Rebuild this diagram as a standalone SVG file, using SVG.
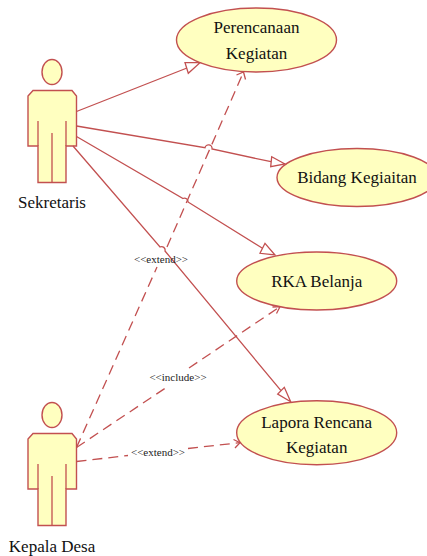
<svg xmlns="http://www.w3.org/2000/svg" width="427" height="556" viewBox="0 0 427 556">
<style>
.n{fill:#ffffc0;stroke:#c25050;stroke-width:1.4}
.l{fill:none;stroke:#c25050;stroke-width:1.3}
.d{stroke-dasharray:10 6}
.h{fill:#fff;stroke:#c25050;stroke-width:1.3}
text{font-family:"Liberation Serif","Times New Roman",serif;fill:#111;text-anchor:middle}
.t{font-size:17px}
.s{font-size:11px;fill:#222}
</style>
<defs>
<g id="actor">
<ellipse class="n" cx="52" cy="72" rx="10" ry="12.5"/>
<path class="n" d="M33 90.5H72L76.500 96V146H66V182.500H38V146H28V96Z"/>
<path class="l" d="M38 121V146M66 121V146M52 133V182.500"/>
</g>
</defs>
<rect width="427" height="556" fill="#fff"/>
<g id="actor-sekretaris"><use href="#actor"/><text class="t" x="52" y="208">Sekretaris</text></g>
<g id="actor-kepala-desa"><use href="#actor" y="343"/><text class="t" x="52" y="552">Kepala Desa</text></g>
<g id="uc-perencanaan"><ellipse class="n" cx="256.500" cy="40" rx="80" ry="32"/><text class="t" x="256.500" y="33">Perencanaan</text><text class="t" x="256.500" y="59">Kegiatan</text></g>
<g id="uc-bidang"><ellipse class="n" cx="357" cy="177.500" rx="80" ry="29"/><text class="t" x="357" y="183">Bidang Kegiaitan</text></g>
<g id="uc-rka"><ellipse class="n" cx="316.700" cy="281" rx="80" ry="29"/><text class="t" x="316.700" y="287">RKA Belanja</text></g>
<g id="uc-lapora"><ellipse class="n" cx="316.700" cy="432.700" rx="80" ry="32"/><text class="t" x="316.700" y="428">Lapora Rencana</text><text class="t" x="316.700" y="453">Kegiatan</text></g>
<g id="connectors">
<path class="l" d="M76.500 111.500L187 68"/><path class="h" d="M200 62.700L185 62.700L188.300 73.300Z"/>
<path class="l" d="M76.500 126L205 147.700A3.500 3.500 0 0 1 212 149L271 161.700"/><path class="h" d="M285 164L271.700 156.700L270.700 166.700Z"/>
<path class="l" d="M76.500 136.500L183 198.500A3.500 3.500 0 0 1 188 202L262.500 248.300"/><path class="h" d="M275 255L265 243.300L260 253.300Z"/>
<path class="l" d="M73 146L160 247A3.500 3.500 0 0 1 165 251L281 390.700"/><path class="h" d="M290.700 401.700L284.300 387.300L277.700 394Z"/>
<path class="l d" d="M76.500 447.500L157 267M167 247L243.500 72"/><path class="l" d="M236.500 75L243.500 72L245.500 79.500"/>
<path class="l d" d="M76.500 447.500L167 387M189 368L280 306.700"/><path class="l" d="M272.500 307L280 306.700L276.500 313.500"/>
<path class="l d" d="M76.500 461.500L128 455.500M188 448.500L240 442.700"/><path class="l" d="M233.500 439.500L240 442.700L235 448"/>
</g>
<g id="labels">
<text class="s" x="161" y="263">&lt;&lt;extend&gt;&gt;</text>
<text class="s" x="178" y="381">&lt;&lt;include&gt;&gt;</text>
<text class="s" x="158" y="456">&lt;&lt;extend&gt;&gt;</text>
</g>
</svg>
